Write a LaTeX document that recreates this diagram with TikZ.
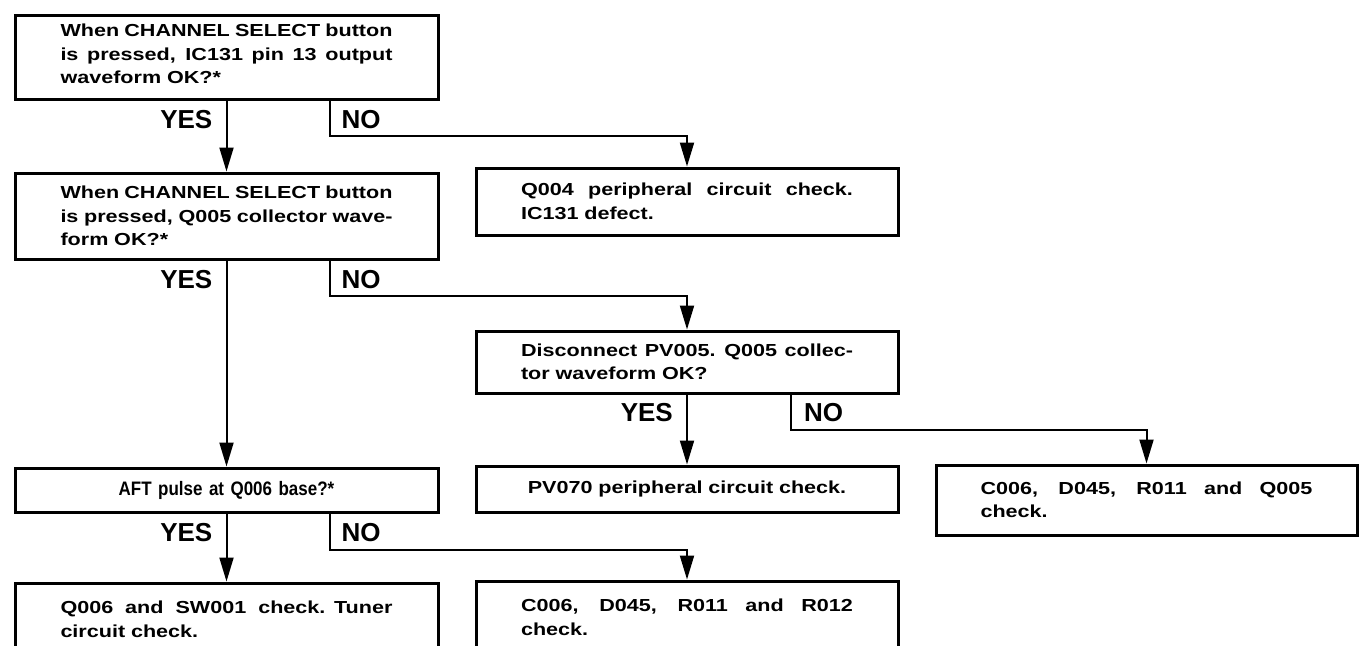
\documentclass[tikz,border=0pt]{standalone}
\usepackage{fontspec}
\setmainfont{Liberation Sans}
\newfontfamily\boxfont[FakeStretch=1.24]{Liberation Sans Bold}
\newfontfamily\narrowfont[FakeStretch=0.87]{Liberation Sans Bold}
\newfontfamily\plainfont{Liberation Sans Bold}
\usetikzlibrary{arrows.meta}

% width of the justified text block inside every box
\newlength\tw
\setlength\tw{332pt}
\newcommand\fullline[1]{\makebox[\tw][s]{\spaceskip=.28em plus 1fil\relax #1}}

\tikzset{
  box/.style={draw, line width=3pt, rectangle, inner sep=0pt,
    anchor=north west, text width=\tw, align=left,
    font=\boxfont\fontsize{17.4}{23.5}\selectfont},
  openbox/.style={box, inner ysep=18pt},
  conn/.style={line width=2pt, -{Triangle[length=24pt,width=14pt]}},
  answer/.style={inner sep=0pt, font=\plainfont\fontsize{26}{26}\selectfont},
}

\begin{document}
\begin{tikzpicture}[x=1pt, y=-1pt]
  \useasboundingbox (0,0) rectangle (1362,645);
  \fill[white] (0,0) rectangle (1362,645);
  \clip (0,0) rectangle (1362,645);

  % decision and action boxes
  \node[box, minimum width=423pt, minimum height=84pt] (a) at (13.5,13.5)
    {\fullline{When CHANNEL SELECT button}\\
     \fullline{is pressed, IC131 pin 13 output}\\
     waveform OK?*\rule[-6pt]{0pt}{6pt}};
  \node[box, minimum width=423pt, minimum height=86pt] (b) at (13.5,171.5)
    {\fullline{When CHANNEL SELECT button}\\
     \fullline{is pressed, Q005 collector wave-}\\
     form OK?*};
  \node[box, minimum width=422pt, minimum height=67pt] (q4) at (474.5,166.5)
    {\fullline{Q004 peripheral circuit check.}\\
     IC131 defect.};
  \node[box, minimum width=422pt, minimum height=62pt] (disc) at (474.5,329.5)
    {\fullline{Disconnect PV005. Q005 collec-}\\
     tor waveform OK?};
  \node[box, align=center, minimum width=423pt, minimum height=44pt,
        font=\narrowfont\fontsize{19.5}{23.5}\selectfont] (aft) at (13.5,466.5)
    {AFT pulse at Q006 base?*};
  \node[box, align=center, minimum width=422pt, minimum height=46pt] (pv) at (474.5,464.5)
    {PV070 peripheral circuit check.};
  \node[box, minimum width=421pt, minimum height=70pt] (cq) at (934.5,463.5)
    {\fullline{C006, D045, R011 and Q005}\\
     check.};
  \node[openbox, minimum width=423pt] (q6) at (13.5,581.5)
    {\parbox[t][100pt][t]{\tw}{\fullline{Q006 and SW001 check. Tuner}\\
     circuit check.}};
  \node[openbox, minimum width=422pt] (cr) at (474.5,579.5)
    {\parbox[t][100pt][t]{\tw}{\fullline{C006, D045, R011 and R012}\\
     check.}};

  % YES branches
  \draw[conn] (a.south) -- (b.north);
  \draw[conn] (b.south) -- (aft.north);
  \draw[conn] (disc.south) -- (pv.north);
  \draw[conn] (aft.south) -- (q6.north);

  % NO branches
  \draw[conn] ([xshift=103pt]a.south) -- ++(0,35) -| (q4.north);
  \draw[conn] ([xshift=103pt]b.south) -- ++(0,35) -| (disc.north);
  \draw[conn] ([xshift=104pt]disc.south) -- ++(0,35) -| (cq.north);
  \draw[conn] ([xshift=103pt]aft.south) -- ++(0,36) -| (cr.north);

  % branch labels
  \node[answer, anchor=east] (ya) at ([xshift=-14pt,yshift=-19.5pt]a.south) {YES};
  \node[answer, anchor=west] (na) at ([xshift=115pt,yshift=-19.5pt]a.south) {NO};
  \node[answer, anchor=east] (yb) at ([xshift=-14pt,yshift=-19.5pt]b.south) {YES};
  \node[answer, anchor=west] (nb) at ([xshift=115pt,yshift=-19.5pt]b.south) {NO};
  \node[answer, anchor=east] (yd) at ([xshift=-14pt,yshift=-18.5pt]disc.south) {YES};
  \node[answer, anchor=west] (nd) at ([xshift=117pt,yshift=-18.5pt]disc.south) {NO};
  \node[answer, anchor=east] (yf) at ([xshift=-14pt,yshift=-19.5pt]aft.south) {YES};
  \node[answer, anchor=west] (nf) at ([xshift=115pt,yshift=-19.5pt]aft.south) {NO};
\end{tikzpicture}
\end{document}
